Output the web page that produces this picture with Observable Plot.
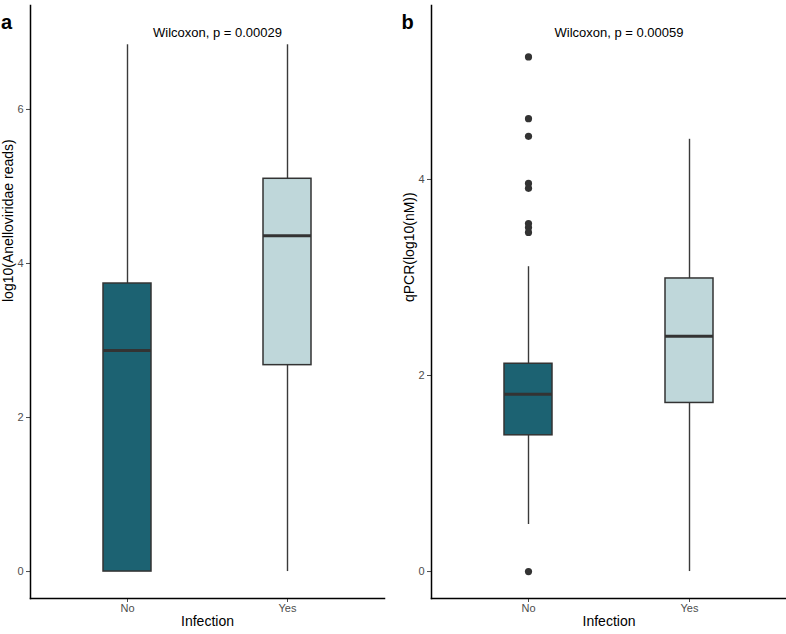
<!DOCTYPE html>
<html>
<head>
<meta charset="utf-8">
<script src="https://cdn.jsdelivr.net/npm/d3@7"></script>
<script src="https://cdn.jsdelivr.net/npm/@observablehq/plot@0.6"></script>
<style>
  html, body { margin: 0; padding: 0; background: #fff; }
  #wrap { display: flex; width: 786px; height: 634px; }
  svg { font-family: "Liberation Sans", Arial, sans-serif; }
</style>
</head>
<body>
<div id="wrap"></div>
<script>
// ---- data ----
const groups = ["No", "Yes"];
const colors = ["#1c6272", "#bfd7da"];

// panel a: log10(Anelloviridae reads)
const aLow    = [0.00, 0.00];
const aQ1     = [0.00, 2.68];
const aMedian = [2.87, 4.36];
const aQ3     = [3.74, 5.10];
const aHigh   = [6.84, 6.84];
const aOutliers = [];        // {g, v}
const aTicks  = [0, 2, 4, 6];
const aTitle  = "log10(Anelloviridae reads)";
const aTest   = "Wilcoxon, p = 0.00029";

// panel b: qPCR(log10(nM))
const bLow    = [0.48, 0.00];
const bQ1     = [1.39, 1.72];
const bMedian = [1.81, 2.40];
const bQ3     = [2.12, 2.99];
const bHigh   = [3.11, 4.41];
const bOutlierNo = [5.25, 4.62, 4.44, 3.96, 3.91, 3.55, 3.51, 3.46, 0.00];
const bTicks  = [0, 2, 4];
const bTitle  = "qPCR(log10(nM))";
const bTest   = "Wilcoxon, p = 0.00059";

const xTitle = "Infection";

function panel({letter, low, q1, med, q3, high, outliers, ticks, yTitle, test, domain, width, marginLeft, marginRight}) {
  const rows = groups.map((g, i) => ({g, low: low[i], q1: q1[i], med: med[i], q3: q3[i], high: high[i], fill: colors[i]}));
  return Plot.plot({
    width, height: 634,
    marginTop: 5, marginBottom: 36, marginLeft, marginRight,
    style: {background: "#fff", fontFamily: "Liberation Sans, Arial, sans-serif"},
    x: {domain: groups, paddingInner: 0.7, paddingOuter: 0.45, label: null},
    y: {domain, label: null},
    marks: [
      Plot.ruleX(rows, {x: "g", y1: "low", y2: "q1", stroke: "#3a3a3a", strokeWidth: 1.4}),
      Plot.ruleX(rows, {x: "g", y1: "q3", y2: "high", stroke: "#3a3a3a", strokeWidth: 1.4}),
      Plot.barY(rows, {x: "g", y1: "q1", y2: "q3", fill: "fill", stroke: "#333", strokeWidth: 1.5}),
      Plot.tickY(rows, {x: "g", y: "med", stroke: "#333", strokeWidth: 3}),
      Plot.dot(outliers, {x: "g", y: "v", r: 3.6, fill: "#333", stroke: null}),
      Plot.axisY({ticks, tickFormat: d3.format("d"), tickSize: 4, tickPadding: 3, fontSize: 11, color: "#4d4d4d", label: null}),
      Plot.axisX({tickSize: 4, tickPadding: 2, fontSize: 11, color: "#4d4d4d", label: null}),
      Plot.frame({anchor: "left", stroke: "#000", strokeWidth: 1.5}),
      Plot.frame({anchor: "bottom", stroke: "#000", strokeWidth: 1.5}),
      Plot.text([yTitle], {frameAnchor: "left", rotate: -90, dx: -22, fontSize: 14, fill: "#000"}),
      Plot.text([xTitle], {frameAnchor: "bottom", dy: 27, fontSize: 14, fill: "#000"}),
      Plot.text([test], {frameAnchor: "top", dx: 10, dy: 22, fontSize: 13, fill: "#000"}),
      Plot.text([letter], {frameAnchor: "top-left", dx: -24, dy: 9, fontSize: 20, fontWeight: "bold", fill: "#000", textAnchor: "middle"})
    ]
  });
}

const wrap = document.getElementById("wrap");
wrap.append(panel({
  letter: "a", low: aLow, q1: aQ1, med: aMedian, q3: aQ3, high: aHigh,
  outliers: aOutliers, ticks: aTicks, yTitle: aTitle, test: aTest,
  domain: [-0.35, 7.35], width: 390, marginLeft: 30, marginRight: 6
}));
wrap.append(panel({
  letter: "b", low: bLow, q1: bQ1, med: bMedian, q3: bQ3, high: bHigh,
  outliers: bOutlierNo.map(v => ({g: "No", v})), ticks: bTicks, yTitle: bTitle, test: bTest,
  domain: [-0.275, 5.775], width: 396, marginLeft: 41, marginRight: 0
}));
</script>
</body>
</html>
